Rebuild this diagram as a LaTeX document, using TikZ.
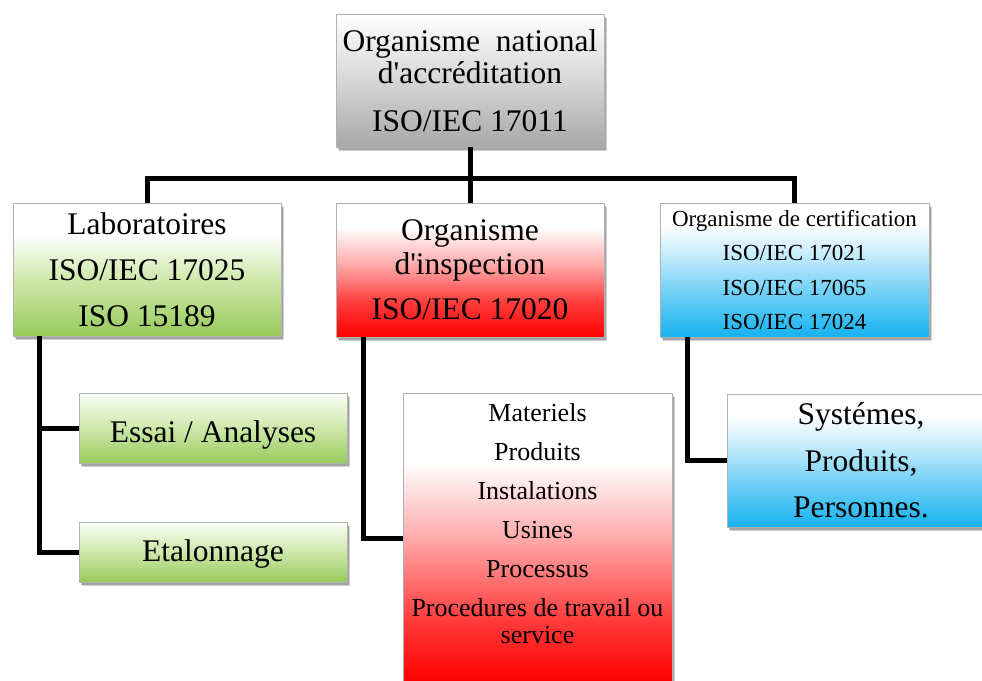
\documentclass[tikz,border=0pt]{standalone}
\usepackage{fontspec}
\setmainfont{Liberation Serif}
\usetikzlibrary{shadows,calc}
\definecolor{grayB}{RGB}{168,168,168}
\definecolor{grayM}{RGB}{214,214,214}
\definecolor{greenB}{RGB}{152,202,90}
\definecolor{greenM}{RGB}{205,232,170}
\definecolor{redB}{RGB}{255,0,0}
\definecolor{redM}{RGB}{255,60,60}
\definecolor{redL}{RGB}{255,170,170}
\definecolor{blueB}{RGB}{22,178,240}
\definecolor{blueM}{RGB}{120,210,246}
\definecolor{blueL}{RGB}{205,238,252}
\pgfdeclareverticalshading{shgray}{100bp}{color(0bp)=(grayB); color(25bp)=(grayB); color(50bp)=(grayM); color(75bp)=(white); color(100bp)=(white)}
\pgfdeclareverticalshading{shgreen}{100bp}{color(0bp)=(greenB); color(25bp)=(greenB); color(46bp)=(greenM); color(63bp)=(white); color(75bp)=(white); color(100bp)=(white)}
\pgfdeclareverticalshading{shgreensmall}{100bp}{color(0bp)=(greenB); color(25bp)=(greenB); color(50bp)=(greenM); color(75bp)=(white!92!greenM); color(100bp)=(white)}
\pgfdeclareverticalshading{shred}{100bp}{color(0bp)=(redB); color(25bp)=(redB); color(38bp)=(redM); color(52bp)=(redL); color(66bp)=(white); color(75bp)=(white); color(100bp)=(white)}
\pgfdeclareverticalshading{shredlist}{100bp}{color(0bp)=(redB); color(25bp)=(redB); color(36bp)=(redM); color(50bp)=(redL); color(63bp)=(white); color(75bp)=(white); color(100bp)=(white)}
\pgfdeclareverticalshading{shblue}{100bp}{color(0bp)=(blueB); color(25bp)=(blueB); color(43bp)=(blueM); color(57bp)=(blueL); color(67bp)=(white); color(75bp)=(white); color(100bp)=(white)}
\tikzset{
  box/.style={rectangle, inner sep=0pt, align=center, draw=black!30, line width=0.6pt,
    drop shadow={shadow xshift=3pt, shadow yshift=-4pt, fill=black, opacity=0.18},
    drop shadow={shadow xshift=2pt, shadow yshift=-2.5pt, fill=black, opacity=0.22}},
  conn/.style={line width=5pt, draw=black},
}
\begin{document}
\begin{tikzpicture}[x=1pt,y=-1pt]
\useasboundingbox (0,0) rectangle (982,680);
\fill[white] (0,0) rectangle (982,680);
% boxes
\node[box, shading=shgray, minimum width=268pt, minimum height=133pt,
  font=\fontsize{31.5}{32}\selectfont] (top) at (470,80.5)
  {Organisme\enspace national\\d\textquotesingle accréditation\\[16pt]ISO/IEC 17011};
\node[box, shading=shgreen, minimum width=268pt, minimum height=133pt,
  font=\fontsize{31.5}{46}\selectfont] (lab) at (147,269.5)
  {Laboratoires\\ISO/IEC 17025\\ISO 15189};
\node[box, shading=shred, minimum width=268pt, minimum height=134pt,
  font=\fontsize{31.5}{34}\selectfont] (insp) at (470,270)
  {Organisme\\d\textquotesingle inspection\\[11pt]ISO/IEC 17020};
\node[box, shading=shblue, minimum width=269pt, minimum height=134pt,
  font=\fontsize{23}{34.5}\selectfont] (cert) at (794.5,270)
  {Organisme de certification\\ISO/IEC 17021\\ISO/IEC 17065\\ISO/IEC 17024};
\node[box, shading=shgreensmall, minimum width=268pt, minimum height=70pt,
  font=\fontsize{31.5}{32}\selectfont] (essai) at (213,428)
  {\raisebox{0pt}[29pt][0pt]{Essai / Analyses}};
\node[box, shading=shgreensmall, minimum width=268pt, minimum height=60pt,
  font=\fontsize{31.5}{32}\selectfont] (etal) at (213,552)
  {\raisebox{0pt}[19pt][0pt]{Etalonnage}};
\node[box, shading=shredlist, minimum width=269pt, minimum height=290pt] (list) at (537.5,538) {};
\node[anchor=north, inner sep=0pt, align=center,
  font=\fontsize{26}{27}\selectfont] (listtxt) at ([yshift=-11pt]list.north)
  {Materiels\\[12pt]Produits\\[12pt]Instalations\\[12pt]Usines\\[12pt]Processus\\[12pt]Procedures de travail ou\\service};
\node[box, shading=shblue, minimum width=268pt, minimum height=133pt,
  font=\fontsize{31.5}{46.5}\selectfont] (sys) at (861,460.5)
  {Systémes,\\Produits,\\Personnes.};
% connectors
\coordinate (bus) at (470,178);
\draw[conn] (top.south) -- (insp.north);
\draw[conn] (lab.north) |- (bus) -| (cert.north);
\draw[conn] ([xshift=27pt]lab.south west) |- (essai.west);
\draw[conn] ([xshift=27pt]lab.south west) |- (etal.west);
\draw[conn] ([xshift=28pt]insp.south west) |- (list.west);
\draw[conn] ([xshift=27.5pt]cert.south west) |- (sys.west);
\end{tikzpicture}
\end{document}
